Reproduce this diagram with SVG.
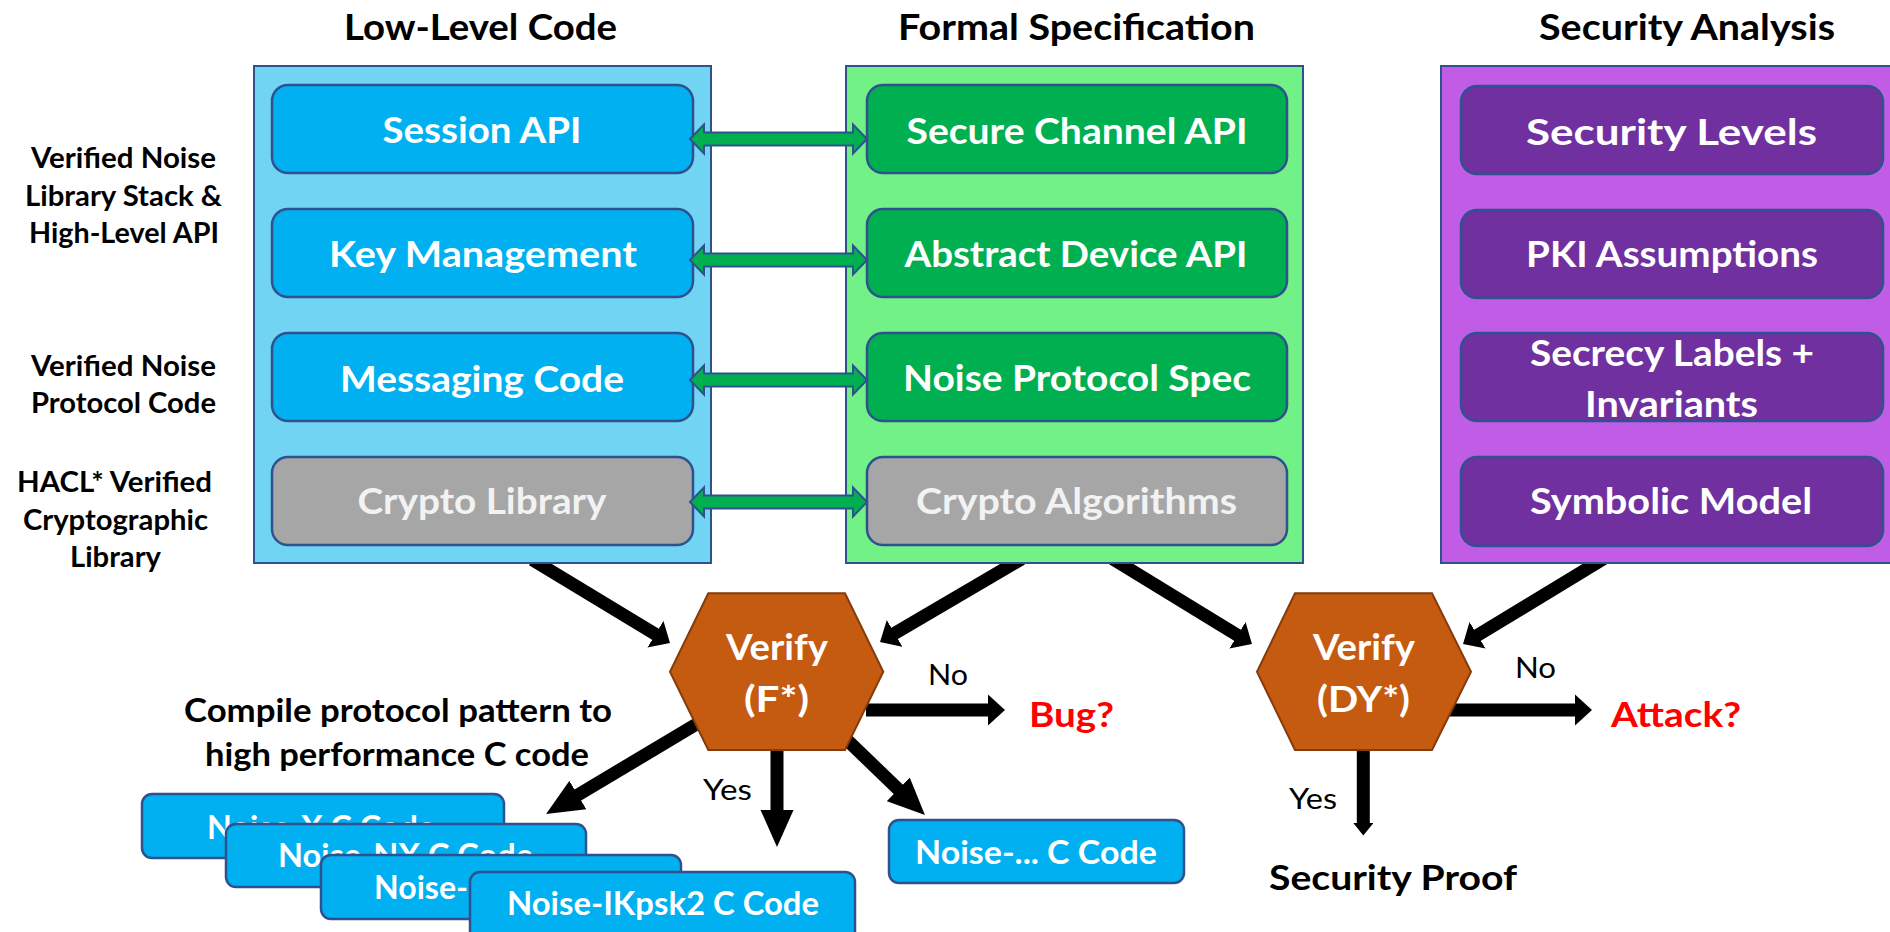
<svg xmlns="http://www.w3.org/2000/svg" width="1890" height="932" viewBox="0 0 1890 932">
  <style>
    text { font-family: Lato, 'Liberation Sans', 'DejaVu Sans', sans-serif; }
    .title { font-size: 36px; font-weight: 700; fill: #000; text-anchor: middle; }
    .side { font-size: 28px; font-weight: 700; fill: #000; text-anchor: middle; }
    .lbl { font-size: 36px; font-weight: 700; fill: #fff; text-anchor: middle; }
    .lbl-grey { fill: #F2F2F2; }
    .code { font-size: 33px; font-weight: 700; fill: #fff; }
    .note { font-size: 32px; font-weight: 700; fill: #000; text-anchor: middle; }
    .yn { font-size: 29px; font-weight: 400; fill: #000; }
    .alert { font-size: 35px; font-weight: 700; fill: #FF0000; }
    .verify { font-size: 37px; font-weight: 700; fill: #fff; text-anchor: middle; }
    .panel { stroke: #2F528F; stroke-width: 2; }
    .box { stroke: #2F528F; stroke-width: 2.5; }
    .blue { fill: #00B0F0; }
    .green { fill: #00B050; }
    .grey { fill: #A6A6A6; }
    .purple { fill: #7030A0; }
    .hex { fill: #C55A11; stroke: #843C0C; stroke-width: 2; }
    .shaft { stroke: #000; stroke-width: 13; fill: none; }
    .dbl { fill: #00B050; stroke: #2F528F; stroke-width: 2; }
  </style>
  <defs>
    <marker id="head-short" markerUnits="userSpaceOnUse" viewBox="-1 -16 17 32" markerWidth="17" markerHeight="32" refX="0" refY="0" orient="auto">
      <path d="M-1,-15.5 L16,0 L-1,15.5 Z" fill="#000"/>
    </marker>
    <marker id="head-long" markerUnits="userSpaceOnUse" viewBox="-1 -17 37 34" markerWidth="37" markerHeight="34" refX="0" refY="0" orient="auto">
      <path d="M-1,-16.5 L36,0 L-1,16.5 Z" fill="#000"/>
    </marker>
    <marker id="head-small" markerUnits="userSpaceOnUse" viewBox="-1 -10 13 20" markerWidth="13" markerHeight="20" refX="0" refY="0" orient="auto">
      <path d="M-1,-10 L11.5,0 L-1,10 Z" fill="#000"/>
    </marker>
    <path id="double-arrow" class="dbl" d="M690,0 L704,-14.5 L704,-6.5 L853,-6.5 L853,-14.5 L867,0 L853,14.5 L853,6.5 L704,6.5 L704,14.5 Z"/>
    <clipPath id="below-panels">
      <rect x="0" y="564" width="1890" height="400"/>
    </clipPath>
  </defs>

  <rect width="1890" height="932" fill="#fff"/>

  <!-- column headings -->
  <g id="headings">
    <text class="title" x="480.5" y="40" textLength="273" lengthAdjust="spacingAndGlyphs">Low-Level Code</text>
    <text class="title" x="1076.5" y="40" textLength="357" lengthAdjust="spacingAndGlyphs">Formal Specification</text>
    <text class="title" x="1687" y="40" textLength="296" lengthAdjust="spacingAndGlyphs">Security Analysis</text>
  </g>

  <!-- layer captions on the left -->
  <g id="layer-captions">
    <text class="side" x="123.5" y="168" textLength="185" lengthAdjust="spacingAndGlyphs">Verified Noise</text>
    <text class="side" x="123.5" y="206" textLength="197" lengthAdjust="spacingAndGlyphs">Library Stack &amp;</text>
    <text class="side" x="124" y="243" textLength="190" lengthAdjust="spacingAndGlyphs">High-Level API</text>
    <text class="side" x="123.5" y="376" textLength="185" lengthAdjust="spacingAndGlyphs">Verified Noise</text>
    <text class="side" x="123.5" y="413" textLength="185" lengthAdjust="spacingAndGlyphs">Protocol Code</text>
    <text class="side" x="114.5" y="492" textLength="195" lengthAdjust="spacingAndGlyphs">HACL* Verified</text>
    <text class="side" x="115.5" y="530" textLength="185" lengthAdjust="spacingAndGlyphs">Cryptographic</text>
    <text class="side" x="115.5" y="567" textLength="91" lengthAdjust="spacingAndGlyphs">Library</text>
  </g>

  <!-- Low-Level Code column -->
  <g id="low-level-code">
    <rect class="panel" x="254" y="66" width="457" height="497" fill="#70D4F2"/>
    <g id="session-api">
      <rect class="box blue" x="272" y="85" width="421" height="88" rx="16"/>
      <text class="lbl" x="482" y="143" textLength="199" lengthAdjust="spacingAndGlyphs">Session API</text>
    </g>
    <g id="key-management">
      <rect class="box blue" x="272" y="209" width="421" height="88" rx="16"/>
      <text class="lbl" x="483" y="267" textLength="308" lengthAdjust="spacingAndGlyphs">Key Management</text>
    </g>
    <g id="messaging-code">
      <rect class="box blue" x="272" y="333" width="421" height="88" rx="16"/>
      <text class="lbl" x="482" y="392" textLength="284" lengthAdjust="spacingAndGlyphs">Messaging Code</text>
    </g>
    <g id="crypto-library">
      <rect class="box grey" x="272" y="457" width="421" height="88" rx="16"/>
      <text class="lbl lbl-grey" x="482" y="514" textLength="249" lengthAdjust="spacingAndGlyphs">Crypto Library</text>
    </g>
  </g>

  <!-- Formal Specification column -->
  <g id="formal-specification">
    <rect class="panel" x="846" y="66" width="457" height="497" fill="#71F186"/>
    <g id="secure-channel-api">
      <rect class="box green" x="867" y="85" width="420" height="88" rx="16"/>
      <text class="lbl" x="1077" y="144" textLength="341" lengthAdjust="spacingAndGlyphs">Secure Channel API</text>
    </g>
    <g id="abstract-device-api">
      <rect class="box green" x="867" y="209" width="420" height="88" rx="16"/>
      <text class="lbl" x="1076" y="267" textLength="343" lengthAdjust="spacingAndGlyphs">Abstract Device API</text>
    </g>
    <g id="noise-protocol-spec">
      <rect class="box green" x="867" y="333" width="420" height="88" rx="16"/>
      <text class="lbl" x="1077" y="391" textLength="348" lengthAdjust="spacingAndGlyphs">Noise Protocol Spec</text>
    </g>
    <g id="crypto-algorithms">
      <rect class="box grey" x="867" y="457" width="420" height="88" rx="16"/>
      <text class="lbl lbl-grey" x="1076.5" y="514" textLength="321" lengthAdjust="spacingAndGlyphs">Crypto Algorithms</text>
    </g>
  </g>

  <!-- Security Analysis column -->
  <g id="security-analysis">
    <rect class="panel" x="1441" y="66" width="462" height="497" fill="#C05CE6"/>
    <g id="security-levels">
      <rect class="box purple" x="1461" y="86" width="422" height="88" rx="16"/>
      <text class="lbl" x="1671.5" y="145" font-size="39" textLength="291" lengthAdjust="spacingAndGlyphs">Security Levels</text>
    </g>
    <g id="pki-assumptions">
      <rect class="box purple" x="1461" y="210" width="422" height="88" rx="16"/>
      <text class="lbl" x="1672" y="267" textLength="292" lengthAdjust="spacingAndGlyphs">PKI Assumptions</text>
    </g>
    <g id="secrecy-labels">
      <rect class="box purple" x="1461" y="333" width="422" height="88" rx="16"/>
      <text class="lbl" x="1672" y="366" textLength="284" lengthAdjust="spacingAndGlyphs">Secrecy Labels +</text>
      <text class="lbl" x="1671.5" y="417" textLength="173" lengthAdjust="spacingAndGlyphs">Invariants</text>
    </g>
    <g id="symbolic-model">
      <rect class="box purple" x="1461" y="457" width="422" height="89" rx="16"/>
      <text class="lbl" x="1671" y="514" textLength="282" lengthAdjust="spacingAndGlyphs">Symbolic Model</text>
    </g>
  </g>

  <!-- connectors: green correspondence links and black verification flows -->
  <g id="connectors">
    <use href="#double-arrow" transform="translate(0,139)"/>
    <use href="#double-arrow" transform="translate(0,260)"/>
    <use href="#double-arrow" transform="translate(0,380)"/>
    <use href="#double-arrow" transform="translate(0,502)"/>

    <g clip-path="url(#below-panels)">
      <line class="shaft" x1="532.4" y1="559.8" x2="656.3" y2="634.7" marker-end="url(#head-short)"/>
      <line class="shaft" x1="1021.6" y1="558.9" x2="893.8" y2="633.9" marker-end="url(#head-short)"/>
      <line class="shaft" x1="1112.5" y1="558.8" x2="1238.3" y2="635.7" marker-end="url(#head-short)"/>
      <line class="shaft" x1="1603.6" y1="558.8" x2="1476.7" y2="635.7" marker-end="url(#head-short)"/>
    </g>

    <line class="shaft" x1="700" y1="722" x2="577" y2="795.5" marker-end="url(#head-long)"/>
    <line class="shaft" x1="845" y1="738" x2="899" y2="790" marker-end="url(#head-long)"/>
    <line class="shaft" x1="777" y1="745" x2="777" y2="811" marker-end="url(#head-long)"/>
    <line class="shaft" x1="866" y1="710" x2="989" y2="710" marker-end="url(#head-short)"/>
    <line class="shaft" x1="1445" y1="710" x2="1576" y2="710" marker-end="url(#head-short)"/>
    <line class="shaft" x1="1363.3" y1="745" x2="1363.3" y2="824" stroke-width="9" marker-end="url(#head-small)"/>
  </g>

  <!-- verification steps -->
  <g id="verify-fstar">
    <polygon class="hex" points="708.3,593.3 845,593.3 883.3,671.7 845,750 708.3,750 670,671.7"/>
    <text class="verify" x="777" y="660" textLength="102" lengthAdjust="spacingAndGlyphs">Verify</text>
    <text class="verify" x="776.5" y="712" textLength="65" lengthAdjust="spacingAndGlyphs">(F*)</text>
  </g>
  <g id="verify-dystar">
    <polygon class="hex" points="1295,593.3 1432,593.3 1471,671.7 1432,750 1295,750 1257,671.7"/>
    <text class="verify" x="1364" y="660" textLength="102" lengthAdjust="spacingAndGlyphs">Verify</text>
    <text class="verify" x="1363.5" y="712" textLength="93" lengthAdjust="spacingAndGlyphs">(DY*)</text>
  </g>

  <!-- outcomes -->
  <g id="outcome-labels">
    <text class="yn" x="928" y="685" textLength="40" lengthAdjust="spacingAndGlyphs">No</text>
    <text class="yn" x="703" y="800" textLength="49" lengthAdjust="spacingAndGlyphs">Yes</text>
    <text class="yn" x="1515" y="678" textLength="41" lengthAdjust="spacingAndGlyphs">No</text>
    <text class="yn" x="1289" y="809" textLength="48" lengthAdjust="spacingAndGlyphs">Yes</text>
  </g>
  <g id="bug">
    <text class="alert" x="1029" y="727" textLength="85" lengthAdjust="spacingAndGlyphs">Bug?</text>
  </g>
  <g id="attack">
    <text class="alert" x="1611" y="727" textLength="130" lengthAdjust="spacingAndGlyphs">Attack?</text>
  </g>
  <g id="security-proof">
    <text x="1269" y="890" font-size="35" font-weight="700" fill="#000" textLength="248" lengthAdjust="spacingAndGlyphs">Security Proof</text>
  </g>

  <g id="compile-note">
    <text class="note" x="398" y="722" textLength="428" lengthAdjust="spacingAndGlyphs">Compile protocol pattern to</text>
    <text class="note" x="397" y="766" textLength="384" lengthAdjust="spacingAndGlyphs">high performance C code</text>
  </g>

  <!-- generated C code, stacked -->
  <g id="noise-x">
    <rect class="box blue" x="142" y="794" width="362" height="64" rx="10"/>
    <text class="code" x="207" y="839" textLength="228" lengthAdjust="spacingAndGlyphs">Noise-X C Code</text>
  </g>
  <g id="noise-nx">
    <rect class="box blue" x="226" y="824" width="360" height="63" rx="10"/>
    <text class="code" x="278" y="867" textLength="255" lengthAdjust="spacingAndGlyphs">Noise-NX C Code</text>
  </g>
  <g id="noise-third">
    <rect class="box blue" x="321" y="855" width="360" height="64" rx="10"/>
    <text class="code" x="374" y="899" textLength="94" lengthAdjust="spacingAndGlyphs">Noise-</text>
  </g>
  <g id="noise-ikpsk2">
    <rect class="box blue" x="470" y="872" width="385" height="80" rx="10"/>
    <text class="code" x="507" y="915" textLength="312" lengthAdjust="spacingAndGlyphs">Noise-IKpsk2 C Code</text>
  </g>
  <g id="noise-other">
    <rect class="box blue" x="889" y="820" width="295" height="63" rx="10"/>
    <text class="code" x="915" y="864" textLength="242" lengthAdjust="spacingAndGlyphs">Noise-... C Code</text>
  </g>
</svg>
